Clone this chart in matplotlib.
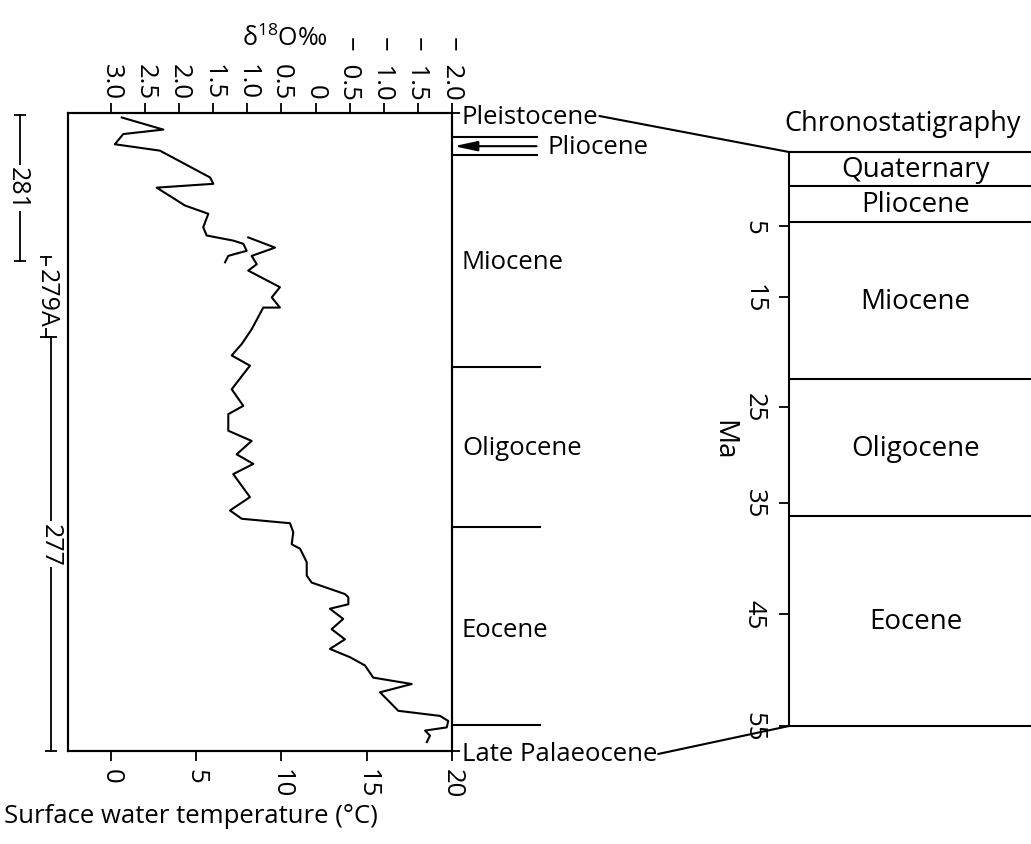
import numpy as np
import matplotlib.pyplot as plt
from matplotlib.patches import ConnectionPatch
from matplotlib.transforms import blended_transform_factory

plt.rcParams['font.family'] = ['Open Sans', 'DejaVu Sans']
plt.rcParams['font.size'] = 18.5
plt.rcParams['axes.linewidth'] = 1.5
plt.rcParams['mathtext.fontset'] = 'custom'
plt.rcParams['mathtext.rm'] = 'Open Sans'

# Surface water temperature (C) down the section (0 = top, 100 = base of section)
# upper short strand (Pliocene / early Miocene)
temp_a = [0.63, 3.07, 0.72, 0.23, 2.87, 5.81, 6.0, 2.68, 4.34, 5.71, 5.41, 5.61,
          7.17, 7.76, 7.96, 7.27, 6.88, 6.69]
pos_a = [0.7, 2.6, 3.3, 4.9, 5.9, 10.1, 11.1, 11.7, 14.5, 15.8, 17.9, 19.2,
         20.0, 20.5, 21.6, 22.1, 22.4, 23.4]
# main strand
temp_b = [8.05, 9.62, 8.25, 8.55, 8.05, 9.91, 9.43, 9.91, 8.93, 8.25, 7.67, 7.08,
          8.15, 7.08, 7.76, 6.88, 6.88, 8.25, 7.37, 8.35, 7.17, 8.15, 6.98, 7.67,
          10.5, 10.69, 10.6, 11.09, 11.48, 11.48, 11.77, 13.72, 13.92, 13.92, 12.84,
          13.62, 12.94, 13.72, 12.84, 14.02, 14.9, 15.38, 17.64, 15.78, 16.85, 19.3,
          19.78, 19.69, 18.42, 18.71, 18.52]
pos_b = [19.5, 21.1, 22.4, 23.7, 24.7, 27.3, 28.9, 30.5, 30.5, 33.9, 36.2, 38.0,
         39.6, 43.3, 45.9, 47.2, 49.8, 51.4, 53.5, 55.0, 56.6, 60.2, 62.3, 63.6,
         64.3, 65.7, 67.6, 68.3, 70.4, 72.5, 73.6, 75.4, 75.9, 77.0, 77.7,
         79.3, 80.9, 82.5, 84.0, 85.3, 86.6, 88.5, 89.5, 90.8, 93.7, 94.5,
         95.3, 96.3, 96.8, 97.6, 98.6]

# epochs beside the temperature curve
side_epochs = ['Miocene', 'Oligocene', 'Eocene']
side_epoch_pos = [23.2, 52.4, 80.9]
side_bounds = [39.8, 64.9, 95.9]
pliocene_bounds = [3.8, 6.6]
pliocene_mid = 5.2
section_ends = [0, 100]
section_end_names = ['Pleistocene', 'Late Palaeocene']

# DSDP sites and the part of the section each covers
sites = ['281', '279A', '277']
site_top = [0.3, 22.6, 35.1]
site_base = [23.2, 35.1, 100]

temp_ticks = [0, 5, 10, 15, 20]
d18o_ticks = [3.0, 2.5, 2.0, 1.5, 1.0, 0.5, 0, -0.5, -1.0, -1.5, -2.0]
d18o_labels = ['3.0', '2.5', '2.0', '1.5', '1.0', '0.5', '0',
               '\u2212\u20020.5', '\u2212\u20021.0', '\u2212\u20021.5', '\u2212\u20022.0']

# chronostratigraphic column (Ma)
chrono_names = ['Quaternary', 'Pliocene', 'Miocene', 'Oligocene', 'Eocene']
chrono_bounds = [0, 2.3, 4.7, 22.5, 36.2, 55]
ma_ticks = [5, 15, 25, 35, 45, 55]
# the age axis is hand drawn: fraction of the column height at each age
ma_knots = [0, 5, 15, 25, 35, 45, 55]
ma_knot_frac = [0, 0.129, 0.253, 0.444, 0.611, 0.805, 1.0]


def age_fwd(a):
    k = [-1000] + ma_knots + [1000]
    f = [-1000 * 0.0258] + ma_knot_frac + [1 + 945 * 0.0112]
    return np.interp(a, k, f)


def age_inv(v):
    k = [-1000] + ma_knots + [1000]
    f = [-1000 * 0.0258] + ma_knot_frac + [1 + 945 * 0.0112]
    return np.interp(v, f, k)


W, H = 1031, 845
fig = plt.figure(figsize=(W / 100, H / 100), dpi=100)

# ---- temperature / d18O panel ----
ax = fig.add_axes([68 / W, (H - 752) / H, 384 / W, 638 / H])
ax.plot(temp_a, pos_a, color='black', lw=1.5)
ax.plot(temp_b, pos_b, color='black', lw=1.5)
ax.set_xlim(-2.52, 20)
ax.set_ylim(100, 0)

ax.set_xticks(temp_ticks)
ax.set_xticklabels([str(t) for t in temp_ticks], rotation=-90)
ax.tick_params(axis='x', direction='out', length=7, width=1.3, pad=5)
ax.set_xlabel('Surface water temperature (\u00b0C)', labelpad=4, x=0.32)

ax.set_yticks(section_ends)
ax.set_yticklabels(section_end_names)
ax.tick_params(axis='y', left=False, labelleft=False, right=True, labelright=True,
               direction='out', length=6, width=1.3, pad=1)

top = ax.twiny()
xl = ax.get_xlim()
top.set_xlim(3 - xl[0] / 4, 3 - xl[1] / 4)
top.set_xticks(d18o_ticks)
top.set_xticklabels(d18o_labels, rotation=-90)
top.tick_params(axis='x', direction='out', length=7, width=1.3, pad=3)
top.text(0.565, 1.118, '\u03b4$^{18}$O\u2030', transform=top.transAxes,
         ha='center', va='center', fontsize=18)

tr = blended_transform_factory(ax.transAxes, ax.transData)
for b in side_bounds:
    ax.plot([1, 1.229], [b, b], color='black', lw=1.5, transform=tr, clip_on=False)
for b in pliocene_bounds:
    ax.plot([1, 1.221], [b, b], color='black', lw=1.5, transform=tr, clip_on=False)
ax.annotate('Pliocene', xy=(1.005, pliocene_mid), xycoords=tr,
            xytext=(1.249, pliocene_mid), textcoords=tr, ha='left', va='center',
            arrowprops=dict(arrowstyle='-|>,head_length=0.7,head_width=0.15',
                            color='black', lw=1.5, shrinkA=6, shrinkB=0,
                            mutation_scale=20))
for name, p in zip(side_epochs, side_epoch_pos):
    ax.text(1.026, p, name, transform=tr, ha='left', va='center')

# site ranges to the left of the panel
site_x = [-0.125, -0.057, -0.044]
site_label_x = [-0.133, -0.057, -0.047]
for s, x, lx, t, b in zip(sites, site_x, site_label_x, site_top, site_base):
    ax.plot([x, x], [t, b], color='black', lw=1.3, marker='_', ms=9, mew=1.3,
            transform=tr, clip_on=False)
    ax.text(lx, (t + b) / 2, s, transform=tr, rotation=-90, ha='center', va='center',
            fontsize=18, bbox=dict(facecolor='white', edgecolor='none', pad=1))

# ---- chronostratigraphy column ----
ax2 = fig.add_axes([789 / W, (H - 727) / H, 253 / W, 574 / H])
ax2.set_yscale('function', functions=(age_fwd, age_inv))
ax2.set_ylim(55, 0)
ax2.set_xlim(0, 1)
ax2.set_xticks([])
ax2.spines['right'].set_visible(False)
for b in chrono_bounds[1:-1]:
    ax2.axhline(b, color='black', lw=1.5)
for name, a, b in zip(chrono_names, chrono_bounds[:-1], chrono_bounds[1:]):
    mid = age_inv((age_fwd(a) + age_fwd(b)) / 2)
    ax2.text(0.5, mid, name, ha='center', va='center', fontsize=20)
ax2.set_yticks(ma_ticks)
ax2.set_yticklabels([str(m) for m in ma_ticks], rotation=-90, va='center')
ax2.minorticks_off()
ax2.tick_params(axis='y', direction='out', length=7, width=1.3, pad=9)
ax2.set_ylabel('Ma', rotation=-90, va='center', fontsize=20)
ax2.yaxis.set_label_coords(-0.26, 0.5)
ax2.text(-0.02, 1.038, 'Chronostatigraphy', transform=ax2.transAxes,
         ha='left', va='baseline', fontsize=19.5)

# leader lines from the section ends to the column
fig.canvas.draw()
renderer = fig.canvas.get_renderer()
ends = []
for tick in ax.yaxis.get_major_ticks():
    bb = tick.label2.get_window_extent(renderer)
    ends.append((bb.x1 + 1, (bb.y0 + bb.y1) / 2))
tr2 = blended_transform_factory(ax2.transAxes, ax2.transData)
for (px, py), age in zip(ends, [chrono_bounds[0], chrono_bounds[-1]]):
    con = ConnectionPatch(xyA=(px, py), coordsA='figure pixels',
                          xyB=(0, age), coordsB=tr2, color='black', lw=1.5)
    fig.add_artist(con)

fig.savefig('out.png', dpi=100)
